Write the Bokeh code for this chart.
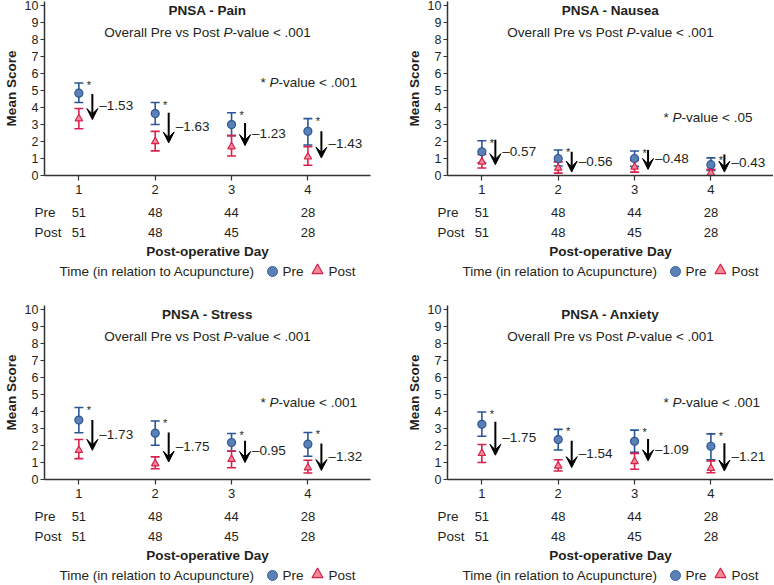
from bokeh.plotting import figure
from bokeh.models import Range1d, ColumnDataSource, Whisker, TeeHead, Arrow, VeeHead, FixedTicker
from bokeh.layouts import column, row
from bokeh.embed import file_html
from bokeh.resources import INLINE
from bokeh.core.properties import value

# ---------------- data ----------------
days = [1, 2, 3, 4]
n_pre = [51, 48, 44, 28]
n_post = [51, 48, 45, 28]

pain_pre = [4.85, 3.65, 3.0, 2.6]
pain_pre_lo = [4.3, 3.0, 2.35, 1.8]
pain_pre_hi = [5.45, 4.3, 3.7, 3.35]
pain_post = [3.35, 2.0, 1.7, 1.1]
pain_post_lo = [2.75, 1.45, 1.15, 0.6]
pain_post_hi = [3.95, 2.6, 2.35, 1.7]
pain_change = [-1.53, -1.63, -1.23, -1.43]
pain_arrow_from = [4.8, 3.7, 3.1, 2.6]
pain_arrow_to = [3.3, 1.92, 1.76, 1.03]

nausea_pre = [1.4, 1.0, 1.0, 0.64]
nausea_pre_lo = [0.75, 0.56, 0.54, 0.3]
nausea_pre_hi = [2.05, 1.5, 1.44, 1.04]
nausea_post = [0.8, 0.44, 0.5, 0.14]
nausea_post_lo = [0.44, 0.14, 0.2, 0.0]
nausea_post_hi = [1.24, 0.8, 0.88, 0.36]
nausea_change = [-0.57, -0.56, -0.48, -0.43]
nausea_arrow_from = [2.1, 1.4, 1.5, 1.24]
nausea_arrow_to = [0.64, 0.2, 0.36, 0.2]

stress_pre = [3.5, 2.73, 2.18, 2.08]
stress_pre_lo = [2.75, 2.02, 1.66, 1.37]
stress_pre_hi = [4.24, 3.45, 2.71, 2.77]
stress_post = [1.72, 0.93, 1.19, 0.69]
stress_post_lo = [1.23, 0.63, 0.69, 0.38]
stress_post_hi = [2.36, 1.33, 1.68, 1.13]
stress_change = [-1.73, -1.75, -0.95, -1.32]
stress_arrow_from = [3.5, 2.77, 2.28, 2.12]
stress_arrow_to = [1.72, 1.03, 1.0, 0.53]

anxiety_pre = [3.25, 2.35, 2.25, 1.96]
anxiety_pre_lo = [2.55, 1.74, 1.6, 1.16]
anxiety_pre_hi = [3.98, 2.95, 2.91, 2.69]
anxiety_post = [1.54, 0.8, 1.06, 0.66]
anxiety_post_lo = [1.0, 0.5, 0.6, 0.4]
anxiety_post_hi = [2.06, 1.16, 1.54, 1.1]
anxiety_change = [-1.75, -1.54, -1.09, -1.21]
anxiety_arrow_from = [3.4, 2.29, 2.39, 2.13]
anxiety_arrow_to = [1.43, 0.7, 1.1, 0.5]

titles = ["PNSA - Pain", "PNSA - Nausea", "PNSA - Stress", "PNSA - Anxiety"]
sig_levels = [".001", ".05", ".001", ".001"]
sig_heights = [5.5, 3.4, 4.53, 4.53]
y_ticks = list(range(0, 11))

# ---------------- styling / layout ----------------
FONT = "Liberation Sans"
INK = "#231f20"
AXIS = "#333333"
BLUE = "#2a5597"
BLUE_FILL = "#5b80b5"
RED = "#d8214c"
RED_FILL = "#f28b97"
FS = "13.5px"

X0, X1 = 0.55, 4.82
A_TOP, A_FRAME, A_BOT = 1, 174, 26
A_H = A_TOP + A_FRAME + A_BOT
ROW_PRE, ROW_POST, ROW_LAB, ROW_LEG = 11, 31, 50, 70

W = {' ': 278, '*': 389, '-': 333, '.': 278, '<': 584, 'O': 778, 'P': 667, 'a': 556,
     'e': 556, 'l': 222, 'o': 556, 'r': 333, 's': 500, 't': 278, 'u': 556, 'v': 500}


def tw(s, px=13.5):
    return sum(W.get(c, 556) for c in s) * px / 1000.0


def txt(p, x, y, t, size=FS, style="normal", align="left", baseline="middle", xo=0, yo=0, color=INK):
    p.text(x=x, y=y, text=t, text_font=value(FONT), text_font_size=size,
           text_font_style=style, text_align=align, text_baseline=baseline,
           x_offset=xo, y_offset=yo, text_color=color)


def panel(title, pre, pre_lo, pre_hi, post, post_lo, post_hi, change, a_from, a_to,
          sig, sig_y, qw, lb, rb, b_h):
    fw = qw - lb - rb
    s = fw / (X1 - X0)
    xc = (X0 + X1) / 2

    p = figure(width=qw, height=A_H, x_range=Range1d(X0, X1), y_range=Range1d(0, 10.25),
               output_backend="svg", toolbar_location=None,
               min_border_left=lb, min_border_right=rb,
               min_border_top=A_TOP, min_border_bottom=A_BOT)
    p.frame_align = False
    p.outline_line_color = None
    p.grid.visible = False
    for ax in (p.xaxis, p.yaxis):
        ax.axis_line_color = AXIS
        ax.axis_line_width = 1.5
        ax.major_tick_line_color = AXIS
        ax.major_tick_line_width = 1.2
        ax.minor_tick_line_color = None
        ax.major_tick_in = 0
        ax.major_label_text_font = FONT
        ax.major_label_text_color = INK
    p.xaxis.ticker = FixedTicker(ticks=days)
    p.xaxis.major_tick_out = 5
    p.xaxis.major_label_standoff = 4
    p.xaxis.major_label_text_font_size = "13px"
    p.yaxis.ticker = FixedTicker(ticks=y_ticks)
    p.yaxis.major_tick_out = 4
    p.yaxis.major_label_standoff = 2
    p.yaxis.major_label_text_font_size = "12.5px"
    p.yaxis.axis_label = "Mean Score"
    p.yaxis.axis_label_text_font = FONT
    p.yaxis.axis_label_text_font_style = "bold"
    p.yaxis.axis_label_text_font_size = FS
    p.yaxis.axis_label_text_color = INK
    p.yaxis.axis_label_standoff = 3

    ax_x = [d + 13.5 / s for d in days]
    mid = [(a + b) / 2 + 0.05 for a, b in zip(a_from, a_to)]
    src = ColumnDataSource(dict(
        x=days, pre=pre, pre_lo=pre_lo, pre_hi=pre_hi,
        post=post, post_lo=post_lo, post_hi=post_hi,
        ax=ax_x, a_from=a_from, a_to=a_to, mid=mid,
        lab=["\u2013%.2f" % abs(c) for c in change], star=["*"] * len(days)))

    for col_lo, col_hi, c in (("pre_lo", "pre_hi", BLUE), ("post_lo", "post_hi", RED)):
        w = Whisker(base="x", lower=col_lo, upper=col_hi, source=src, line_color=c, line_width=1.6,
                    upper_head=TeeHead(size=9, line_color=c, line_width=1.6),
                    lower_head=TeeHead(size=9, line_color=c, line_width=1.6), level="underlay")
        p.add_layout(w)

    p.scatter("x", "pre", source=src, marker="circle", size=8, fill_color=BLUE_FILL,
              line_color=BLUE, line_width=1.2)
    p.scatter("x", "post", source=src, marker="triangle", size=7.5, fill_color=RED_FILL,
              line_color=RED, line_width=1.2)

    p.add_layout(Arrow(x_start="ax", y_start="a_from", x_end="ax", y_end="a_to", source=src,
                       line_color="black", line_width=2,
                       end=VeeHead(size=11, fill_color="black", line_color="black", line_width=1)))
    p.text(x="ax", y="mid", text="lab", source=src, x_offset=7, text_align="left",
           text_baseline="middle", text_font=value(FONT), text_font_size=FS, text_color=INK)
    p.text(x="x", y="pre_hi", text="star", source=src, x_offset=10, y_offset=2,
           text_align="center", text_baseline="alphabetic", text_font=value(FONT),
           text_font_size="11px", text_color=INK)

    # titles
    txt(p, [xc], [9.72], [title], style="bold", align="center")
    a, b, c = "Overall Pre vs Post ", "P", "-value < .001"
    w0 = -(tw(a) + tw(b) + tw(c)) / 2
    txt(p, [xc], [8.45], [a], xo=w0)
    txt(p, [xc], [8.45], [b], style="italic", xo=w0 + tw(a))
    txt(p, [xc], [8.45], [c], xo=w0 + tw(a) + tw(b))
    a, b, c = "* ", "P", "-value < " + sig
    txt(p, [3.38], [sig_y], [a])
    txt(p, [3.38], [sig_y], [b], style="italic", xo=tw(a))
    txt(p, [3.38], [sig_y], [c], xo=tw(a) + tw(b))

    # table / x label / legend figure: full-width frame, same data scale as the plot above
    q = figure(width=qw, height=b_h, x_range=Range1d(X0 - lb / s, X1 + rb / s),
               y_range=Range1d(b_h, 0), output_backend="svg", toolbar_location=None,
               x_axis_type=None, y_axis_type=None,
               min_border_left=0, min_border_right=0, min_border_top=0, min_border_bottom=0)
    q.frame_align = False
    q.outline_line_color = None
    q.grid.visible = False
    txt(q, [X0, X0], [ROW_PRE, ROW_POST], ["Pre", "Post"], xo=-10)
    txt(q, days, [ROW_PRE] * 4, [str(n) for n in n_pre], size="13px", align="center")
    txt(q, days, [ROW_POST] * 4, [str(n) for n in n_post], size="13px", align="center")
    txt(q, [xc], [ROW_LAB], ["Post-operative Day"], style="bold", align="center")
    txt(q, [xc], [ROW_LEG], ["Time (in relation to Acupuncture)"], xo=-148)
    q.scatter([xc + 65 / s], [ROW_LEG], marker="circle", size=10, fill_color=BLUE_FILL,
              line_color="#3b64a0", line_width=1)
    txt(q, [xc], [ROW_LEG], ["Pre"], xo=75)
    q.scatter([xc + 110 / s], [ROW_LEG - 1], marker="triangle", size=11, fill_color=RED_FILL,
              line_color=RED, line_width=1.2)
    txt(q, [xc], [ROW_LEG], ["Post"], xo=121)
    return column(p, q)


TOP_B, BOT_B = 103, 79
pain = panel(titles[0], pain_pre, pain_pre_lo, pain_pre_hi, pain_post, pain_post_lo, pain_post_hi,
             pain_change, pain_arrow_from, pain_arrow_to, sig_levels[0], sig_heights[0],
             387, 44, 17, TOP_B)
nausea = panel(titles[1], nausea_pre, nausea_pre_lo, nausea_pre_hi, nausea_post, nausea_post_lo,
               nausea_post_hi, nausea_change, nausea_arrow_from, nausea_arrow_to,
               sig_levels[1], sig_heights[1], 386, 60, 0, TOP_B)
stress = panel(titles[2], stress_pre, stress_pre_lo, stress_pre_hi, stress_post, stress_post_lo,
               stress_post_hi, stress_change, stress_arrow_from, stress_arrow_to,
               sig_levels[2], sig_heights[2], 387, 44, 17, BOT_B)
anxiety = panel(titles[3], anxiety_pre, anxiety_pre_lo, anxiety_pre_hi, anxiety_post, anxiety_post_lo,
                anxiety_post_hi, anxiety_change, anxiety_arrow_from, anxiety_arrow_to,
                sig_levels[3], sig_heights[3], 386, 60, 0, BOT_B)

layout = column(row(pain, nausea), row(stress, anxiety))
open("out.html", "w").write(file_html(layout, INLINE))
